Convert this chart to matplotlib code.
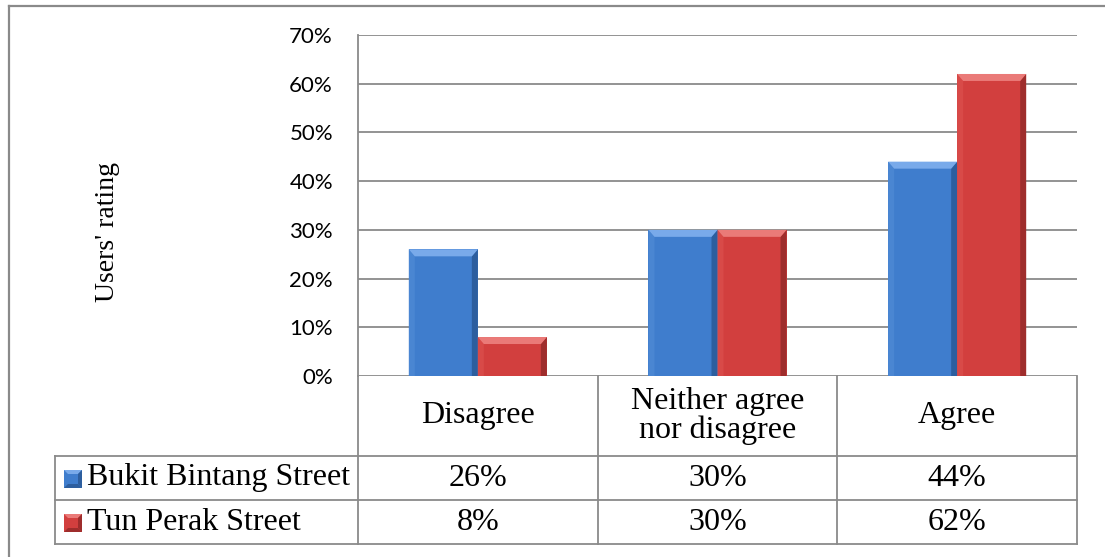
import matplotlib
matplotlib.use("Agg")
import matplotlib.pyplot as plt
from matplotlib.patches import Polygon, Rectangle
from matplotlib.lines import Line2D
from matplotlib.transforms import blended_transform_factory
from matplotlib.ticker import PercentFormatter

# ---- data ----
categories = ["Disagree", "Neither agree\nnor disagree", "Agree"]
series_names = ["Bukit Bintang Street", "Tun Perak Street"]
bukit_bintang = [26, 30, 44]
tun_perak = [8, 30, 62]
y_ticks = [0, 10, 20, 30, 40, 50, 60, 70]
y_label = "Users' rating"

# ---- styling ----
W, H = 1105, 557
GRID = "#8a8a8a"
face = {"blue": "#3f7dcd", "red": "#d23f3e"}
bevel = {
    "blue": {"top": "#79aaea", "left": "#4a86d2", "right": "#2d5e9e"},
    "red": {"top": "#ea7a78", "left": "#d84a48", "right": "#9e2d2c"},
}
SERIF = ["Liberation Serif", "DejaVu Serif"]
SANS = ["Lato", "DejaVu Sans"]


def fx(x):
    return x / W


def fy(y):
    return 1 - y / H


fig = plt.figure(figsize=(W / 100, H / 100), dpi=100)
fig.patch.set_facecolor("white")

ax_left, ax_right, ax_top, ax_bottom = 358, 1077, 35, 376
ax = fig.add_axes([fx(ax_left), fy(ax_bottom), fx(ax_right - ax_left), (ax_bottom - ax_top) / H])
ax.set_xlim(-0.5, len(categories) - 0.5)
ax.set_ylim(0, 70)
ax.set_yticks(y_ticks)
ax.yaxis.set_major_formatter(PercentFormatter(decimals=0))
ax.set_xticks([])
ax.tick_params(axis="y", length=0, pad=18, labelsize=16)
for lab in ax.get_yticklabels():
    lab.set_fontfamily(SANS)
ax.yaxis.grid(True, color=GRID, linewidth=1.3)
ax.set_axisbelow(True)
for side in ["top", "right", "bottom"]:
    ax.spines[side].set_visible(False)
ax.spines["left"].set_color(GRID)
ax.spines["left"].set_linewidth(1.3)

bar_w = 0.288
xs = list(range(len(categories)))
bars_b = ax.bar([x - bar_w / 2 for x in xs], bukit_bintang, width=bar_w,
                color=face["blue"], zorder=3, linewidth=0)
bars_r = ax.bar([x + bar_w / 2 for x in xs], tun_perak, width=bar_w,
                color=face["red"], zorder=3, linewidth=0)

# bevelled edges on each bar, sized in pixels and converted to data units
px_x = (len(categories)) / (ax_right - ax_left)
px_y = 70 / (ax_bottom - ax_top)
bx, by = 6 * px_x, 7 * px_y
for bars, key in ((bars_b, "blue"), (bars_r, "red")):
    c = bevel[key]
    for b in bars:
        x0, w, h = b.get_x(), b.get_width(), b.get_height()
        ax.add_patch(Polygon([(x0, 0), (x0, h), (x0 + bx, h - by), (x0 + bx, 0)],
                             closed=True, color=c["left"], lw=0, zorder=4))
        ax.add_patch(Polygon([(x0 + w, 0), (x0 + w, h), (x0 + w - bx, h - by), (x0 + w - bx, 0)],
                             closed=True, color=c["right"], lw=0, zorder=4))
        ax.add_patch(Polygon([(x0, h), (x0 + w, h), (x0 + w - bx, h - by), (x0 + bx, h - by)],
                             closed=True, color=c["top"], lw=0, zorder=4))

# y-axis title
fig.text(fx(107), fy(232), y_label, rotation=90, ha="center", va="center",
         fontsize=20, family=SERIF)

# ---- data table below the plot ----
tr = blended_transform_factory(ax.transData, fig.transFigure)
row_cat, row1, row2, row_end = 376, 456, 500, 544
edges = [x - 0.5 for x in xs] + [xs[-1] + 0.5]
lw = 1.3
for e in edges:
    fig.add_artist(Line2D([e, e], [fy(row_cat), fy(row_end)], transform=tr,
                          color=GRID, lw=lw))
for yy in (row1, row2, row_end):
    fig.add_artist(Line2D([fx(55), fx(ax_right)], [fy(yy), fy(yy)], color=GRID, lw=lw))
fig.add_artist(Line2D([fx(55), fx(55)], [fy(row1), fy(row_end)], color=GRID, lw=lw))

for x, cat in zip(xs, categories):
    fig.text(x, fy((row_cat + row1) / 2), cat, transform=tr, ha="center", va="center",
             fontsize=23, family=SERIF, linespacing=0.95)
for vals, (ya, yb) in ((bukit_bintang, (row1, row2)), (tun_perak, (row2, row_end))):
    for x, v in zip(xs, vals):
        fig.text(x, fy((ya + yb) / 2), f"{v}%", transform=tr, ha="center", va="center",
                 fontsize=23, family=SERIF)

# legend keys in the row header cells
for name, key, (ya, yb) in ((series_names[0], "blue", (row1, row2)),
                            (series_names[1], "red", (row2, row_end))):
    yc = (ya + yb) / 2
    s = 18
    x0, y0 = 64, yc - s / 2 + 1
    c = bevel[key]
    d = 4
    pts = lambda p: [(fx(a), fy(b)) for a, b in p]
    fig.add_artist(Rectangle((fx(x0), fy(y0 + s)), fx(s), s / H, color=face[key], lw=0))
    fig.add_artist(Polygon(pts([(x0, y0), (x0 + s, y0), (x0 + s - d, y0 + d), (x0 + d, y0 + d)]),
                           closed=True, color=c["top"], lw=0))
    fig.add_artist(Polygon(pts([(x0 + s, y0), (x0 + s, y0 + s), (x0 + s - d, y0 + s - d), (x0 + s - d, y0 + d)]),
                           closed=True, color=c["right"], lw=0))
    fig.add_artist(Polygon(pts([(x0, y0 + s), (x0 + s, y0 + s), (x0 + s - d, y0 + s - d), (x0 + d, y0 + s - d)]),
                           closed=True, color=c["right"], lw=0))
    fig.text(fx(87), fy(yc), name, ha="left", va="center", fontsize=23, family=SERIF)

# chart-area border
fig.add_artist(Line2D([fx(9), fx(W)], [fy(6), fy(6)], color=GRID, lw=1.6))
fig.add_artist(Line2D([fx(9), fx(9)], [fy(6), fy(H)], color=GRID, lw=1.6))

fig.savefig("out.png", dpi=100, facecolor="white")
